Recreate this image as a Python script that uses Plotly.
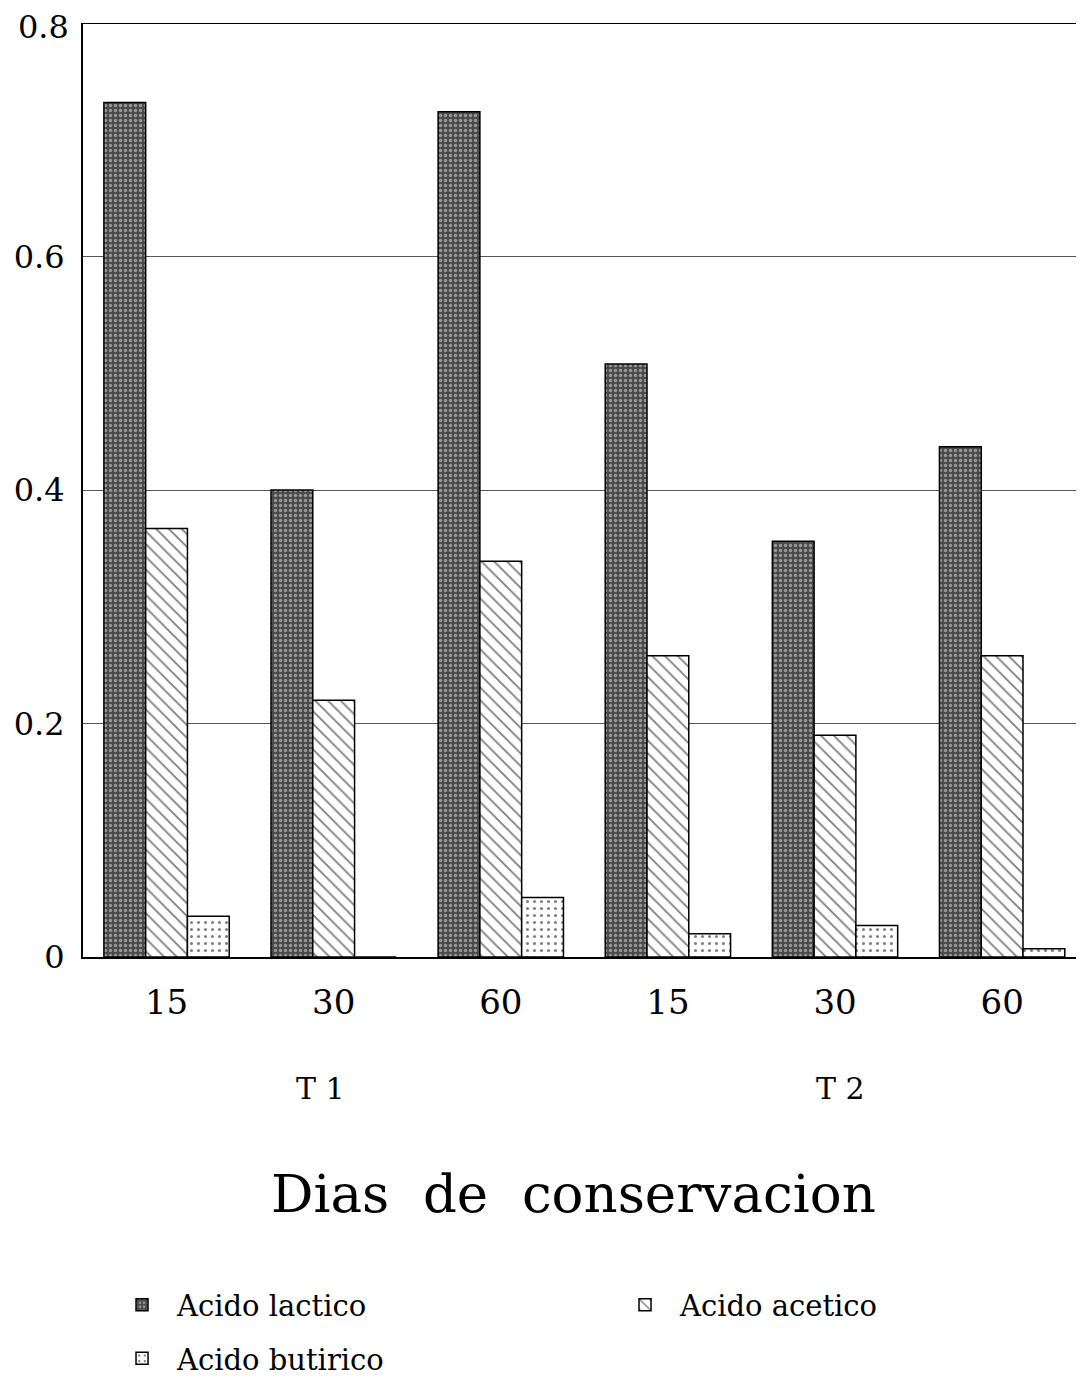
import plotly.graph_objects as go

days = ["15", "30", "60", "15", "30", "60"]
treatments = ["T 1", "T 2"]
acido_lactico = [0.732, 0.400, 0.724, 0.508, 0.356, 0.437]
acido_acetico = [0.367, 0.220, 0.339, 0.258, 0.190, 0.258]
acido_butirico = [0.035, 0.0, 0.051, 0.020, 0.027, 0.007]
y_ticks = [0, 0.2, 0.4, 0.6, 0.8]
y_ticktext = ["0", "0.2", "0.4", "0.6", "0.8"]

xpos = list(range(len(days)))
FONT = "DejaVu Serif"

fig = go.Figure()
fig.add_trace(go.Bar(
    x=xpos, y=acido_lactico, name="Acido lactico", legend="legend",
    marker=dict(color="#5a5a5a", line=dict(color="black", width=1.5),
                pattern=dict(shape=".", fgcolor="#e8e8e8", bgcolor="#4a4a4a", size=5, solidity=0.35)),
))
fig.add_trace(go.Bar(
    x=xpos, y=acido_acetico, name="Acido acetico", legend="legend3",
    marker=dict(color="white", line=dict(color="black", width=1.5),
                pattern=dict(shape="\\", fgcolor="black", bgcolor="white", size=9, solidity=0.2)),
))
fig.add_trace(go.Bar(
    x=xpos, y=acido_butirico, name="Acido butirico", legend="legend2",
    marker=dict(color="white", line=dict(color="black", width=1.5),
                pattern=dict(shape=".", fgcolor="black", bgcolor="white", size=7, solidity=0.15)),
))

leg_common = dict(orientation="h", xanchor="left", yanchor="middle",
                  font=dict(size=29, family=FONT), itemwidth=60, bgcolor="rgba(0,0,0,0)")

fig.update_layout(
    width=1076, height=1376,
    margin=dict(l=75, r=0, t=15, b=426),
    paper_bgcolor="white", plot_bgcolor="white",
    barmode="group", bargap=0.25, bargroupgap=0,
    font=dict(family=FONT, color="black"),
    showlegend=True,
    legend=dict(x=0.024, y=-0.371, **leg_common),
    legend3=dict(x=0.5265, y=-0.371, **leg_common),
    legend2=dict(x=0.024, y=-0.43, **leg_common),
    xaxis=dict(range=[-0.5, 5.49], tickvals=xpos, ticktext=days, showgrid=False,
               showline=True, linecolor="black", linewidth=2, ticks="", automargin=False,
               ticklabeloverflow="allow",
               tickfont=dict(size=34, family=FONT), ticklabelstandoff=14, zeroline=False),
    yaxis=dict(range=[0, 0.8], tickvals=y_ticks[:-1], ticktext=y_ticktext[:-1], showgrid=True,
               gridcolor="#555555", gridwidth=1, showline=True, linecolor="black", linewidth=2,
               ticks="", automargin=False, ticklabeloverflow="allow",
               tickfont=dict(size=32, family=FONT),
               ticklabelstandoff=10, zeroline=False),
)

# top tick label (placed as annotation so it stays inside the page)
fig.add_annotation(x=0, y=y_ticks[-1], xref="paper", yref="y", xanchor="right", yanchor="middle",
                   xshift=-12, yshift=-4, text=y_ticktext[-1], showarrow=False,
                   font=dict(size=32, family=FONT))

# top frame line
fig.add_shape(type="line", xref="paper", yref="y", x0=0, x1=1, y0=0.8, y1=0.8,
              line=dict(color="black", width=2))

# treatment labels
fig.add_annotation(x=0.92, y=-0.1412, xref="x", yref="paper", yanchor="middle", text=treatments[0],
                   showarrow=False, font=dict(size=30, family=FONT))
fig.add_annotation(x=4.03, y=-0.1412, xref="x", yref="paper", yanchor="middle", text=treatments[1],
                   showarrow=False, font=dict(size=30, family=FONT))
# axis title
fig.add_annotation(x=0.49, y=-0.2535, xref="paper", yref="paper", yanchor="middle",
                   text="Dias  de  conservacion", showarrow=False, font=dict(size=53, family=FONT))

fig.write_html("out.html")
